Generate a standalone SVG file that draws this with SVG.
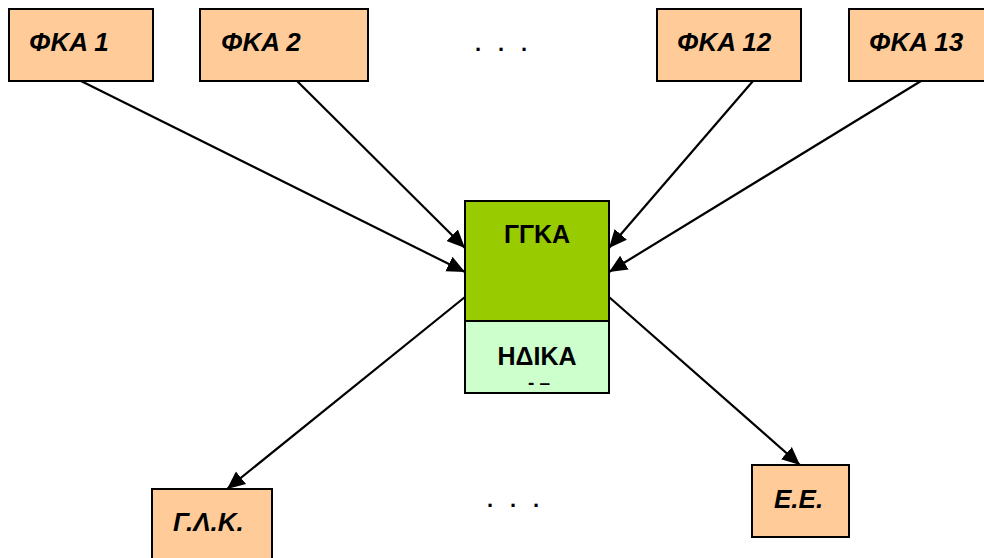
<svg xmlns="http://www.w3.org/2000/svg" width="984" height="558" viewBox="0 0 984 558">
<style>
.box{fill:#ffcc99;stroke:#000;stroke-width:2}
.lbl{font-family:"Liberation Sans",Arial,sans-serif;font-size:26px;font-weight:bold;font-style:italic;fill:#000}
.ctr{font-family:"Liberation Sans",Arial,sans-serif;font-size:25px;font-weight:bold;fill:#000;text-anchor:middle}
.dots{font-family:"Liberation Sans",Arial,sans-serif;font-size:22px;font-weight:bold;fill:#000;text-anchor:middle}
.ln{stroke:#000;stroke-width:2.2;fill:none;marker-end:url(#ah)}
</style>
<defs>
<marker id="ah" viewBox="0 0 10 10" refX="10" refY="5" markerWidth="18" markerHeight="18" markerUnits="userSpaceOnUse" orient="auto"><path d="M0,0.5 L10,5 L0,9.5 z" fill="#000"/></marker>
</defs>
<rect width="984" height="558" fill="#fff"/>
<g id="connectors">
<line class="ln" x1="81" y1="81" x2="465" y2="272"/>
<line class="ln" x1="297" y1="81" x2="465" y2="248"/>
<line class="ln" x1="753" y1="81" x2="609" y2="248"/>
<line class="ln" x1="921" y1="81" x2="609" y2="272"/>
<line class="ln" x1="465" y1="297" x2="227" y2="489"/>
<line class="ln" x1="609" y1="297" x2="800" y2="465"/>
</g>
<g id="fka1"><rect class="box" x="9" y="9" width="144" height="72"/><text class="lbl" x="29" y="51">ΦΚΑ 1</text></g>
<g id="fka2"><rect class="box" x="200" y="9" width="168" height="72"/><text class="lbl" x="221" y="51">ΦΚΑ 2</text></g>
<g id="fka12"><rect class="box" x="657" y="9" width="144" height="72"/><text class="lbl" x="677" y="51">ΦΚΑ 12</text></g>
<g id="fka13"><rect class="box" x="849" y="9" width="145" height="72"/><text class="lbl" x="869" y="51">ΦΚΑ 13</text></g>
<g id="dots-top"><text class="dots" x="478" y="51">.</text><text class="dots" x="501" y="51">.</text><text class="dots" x="524" y="51">.</text></g>
<g id="ggka"><rect x="465" y="201" width="144" height="120" fill="#99cc00" stroke="#000" stroke-width="2"/><text class="ctr" x="537" y="243">ΓΓΚΑ</text></g>
<g id="hdika"><rect x="465" y="321" width="144" height="72" fill="#ccffcc" stroke="#000" stroke-width="2"/><text class="ctr" x="537" y="365">ΗΔΙΚΑ</text><text class="ctr" x="539" y="389" style="font-size:19px">- –</text></g>
<g id="glk"><rect class="box" x="152" y="489" width="120" height="80"/><text class="lbl" x="173" y="531">Γ.Λ.Κ.</text></g>
<g id="dots-bottom"><text class="dots" x="490" y="507">.</text><text class="dots" x="513" y="507">.</text><text class="dots" x="536" y="507">.</text></g>
<g id="ee"><rect class="box" x="752" y="465" width="97" height="72"/><text class="lbl" x="774" y="508">Ε.Ε.</text></g>
</svg>
